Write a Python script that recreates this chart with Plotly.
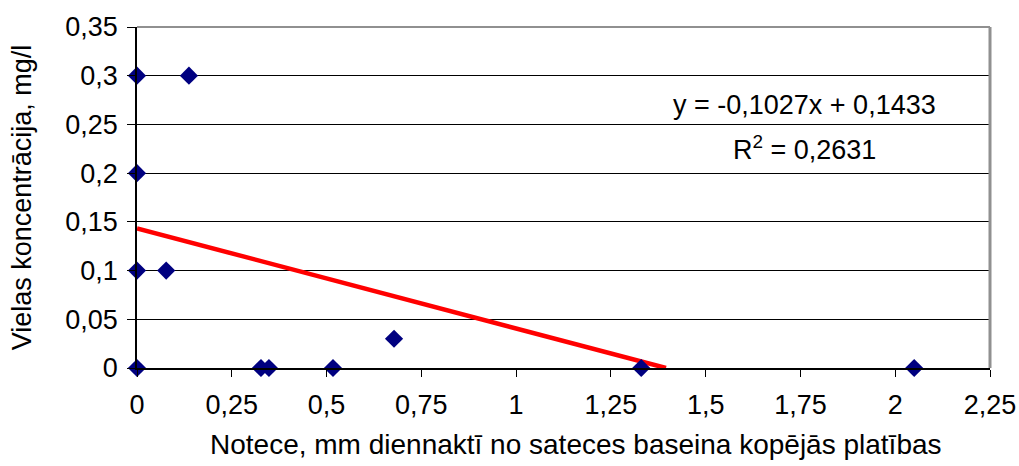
import plotly.graph_objects as go
import numpy as np

x_vals = [0, 0.137, 0, 0, 0.077, 0, 0.327, 0.348, 0.517, 0.678, 1.33, 2.05]
y_vals = [0.3, 0.3, 0.2, 0.1, 0.1, 0, 0, 0, 0, 0.03, 0, 0]
slope = -0.1027
intercept = 0.1433
r_squared = 0.2631
x_ticks = [0, 0.25, 0.5, 0.75, 1, 1.25, 1.5, 1.75, 2, 2.25]
y_ticks = [0, 0.05, 0.1, 0.15, 0.2, 0.25, 0.3, 0.35]
x_title = "Notece, mm diennaktī no sateces baseina kopējās platības"
y_title = "Vielas koncentrācija, mg/l"

def fmt(v):
    return ("%g" % v).replace(".", ",")

x_end = -intercept / slope
tx = np.array([0, x_end])
ty = slope * tx + intercept

fig = go.Figure()
fig.add_trace(go.Scatter(x=tx, y=ty, mode="lines", line=dict(color="#ff0000", width=4.5), showlegend=False))
fig.add_trace(go.Scatter(x=x_vals, y=y_vals, mode="markers",
                         marker=dict(symbol="diamond", color="#000080", size=14), showlegend=False,
                         cliponaxis=False))

font = dict(family="Liberation Sans, Arial", size=27, color="black")
xfont = dict(family="Liberation Sans, Arial", size=28, color="black")
fig.update_layout(
    width=1019, height=466,
    margin=dict(l=137, r=29, t=27, b=98, autoexpand=False),
    paper_bgcolor="white", plot_bgcolor="white",
    font=font,
    xaxis=dict(range=[0, 2.25], tickvals=x_ticks, ticktext=[fmt(v) for v in x_ticks],
               showgrid=False, zeroline=False, showline=True, linecolor="black", linewidth=1.5,
               ticks="outside", ticklen=7, tickcolor="black", tickfont=font, automargin=False,
               ticklabelstandoff=5),
    yaxis=dict(range=[0, 0.35], tickvals=y_ticks, ticktext=[fmt(v) for v in y_ticks],
               showgrid=True, gridcolor="black", gridwidth=1, zeroline=False,
               showline=True, linecolor="black", linewidth=1.5, automargin=False,
               ticks="outside", ticklen=8, tickcolor="black", tickfont=font,
               ticklabelstandoff=4,
               title=dict(text=y_title, standoff=26, font=font)),
    shapes=[
        dict(type="line", xref="paper", yref="paper", x0=0, x1=1, y0=1, y1=1, line=dict(color="#909090", width=2)),
        dict(type="line", xref="paper", yref="paper", x0=1, x1=1, y0=0, y1=1, line=dict(color="#909090", width=3)),
    ],
    annotations=[
        dict(x=0.783, y=0.27, xref="paper", yref="y", xanchor="center", yanchor="middle", showarrow=False,
             text="y = %sx + %s" % (fmt(slope), fmt(intercept)), font=font),
        dict(x=0.783, y=0.2255, xref="paper", yref="y", xanchor="center", yanchor="middle", showarrow=False,
             text="R<sup>2</sup> = %s" % fmt(r_squared), font=font),
        dict(x=0.515, y=-0.225, xref="paper", yref="paper", xanchor="center", yanchor="middle", showarrow=False,
             text=x_title, font=xfont),
    ],
)
fig.write_html("out.html", config={"displayModeBar": False},
               post_script="document.body.style.margin='0';document.body.style.overflow='hidden';")
